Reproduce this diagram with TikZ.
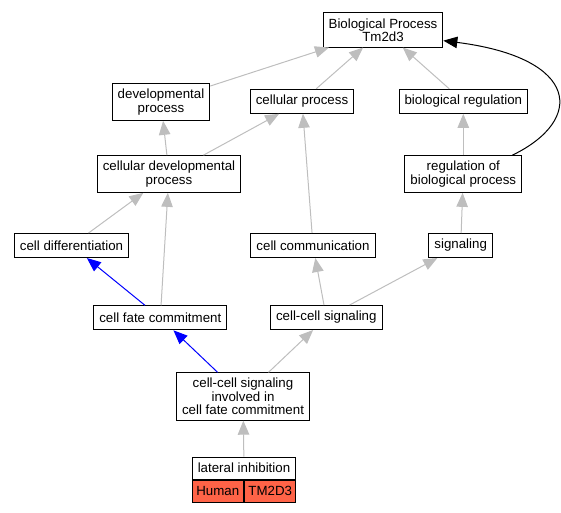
\documentclass[tikz,border=0pt]{standalone}
\usepackage{fontspec}
\setmainfont{Liberation Sans}
\usetikzlibrary{arrows.meta}
\definecolor{edgegray}{RGB}{190,190,190}
\definecolor{tomato}{RGB}{255,99,71}
\tikzset{tip/.style={-{Triangle[length=14pt,width=11.5pt]}}}
\begin{document}
\begin{tikzpicture}[x=1pt, y=-1pt]
\useasboundingbox (0,0) rectangle (561,512);
\begin{scope}[every node/.style = {rectangle, draw, line width=1pt, align=center, inner xsep=5.5pt, inner ysep=5.5pt, minimum height=24pt, font=\fontsize{13.3}{13.3}\selectfont}]
\node (bp) at (383, 30) {Biological Process\\Tm2d3};
\node (devproc) at (161, 102) {developmental\\process};
\node (cellproc) at (302, 101.3) {cellular process};
\node (bioreg) at (463.3, 101.3) {biological regulation};
\node (celldev) at (169, 174) {cellular developmental\\process};
\node (regbp) at (463.3, 174) {regulation of\\biological process};
\node (celldiff) at (71.5, 245.5) {cell differentiation};
\node (cellcomm) at (313, 245.5) {cell communication};
\node (signal) at (460.7, 245.5) {signaling};
\node (fate) at (160.3, 317.8) {cell fate commitment};
\node (ccsig) at (326.3, 317.5) {cell-cell signaling};
\node (ccfate) at (243, 396.5) {cell-cell signaling\\involved in\\cell fate commitment};
\node[minimum width=102pt, minimum height=22pt] (lateral) at (244, 468) {lateral inhibition};
\node[fill=tomato, inner xsep=3pt, minimum width=51pt, minimum height=22pt, anchor=north west] (human) at (lateral.south west) {Human};
\node[fill=tomato, inner xsep=3pt, minimum width=51pt, minimum height=22pt, anchor=north east] (gene) at (lateral.south east) {TM2D3};
\end{scope}
\begin{scope}[every edge/.style = {draw, line width=1pt, edgegray, tip}]
\path (devproc) edge (bp);
\path (cellproc) edge (bp);
\path (bioreg) edge (bp);
\path (celldev) edge (devproc);
\path (celldev) edge (cellproc);
\path (regbp) edge (bioreg);
\path (celldiff) edge (celldev);
\path (fate) edge (celldev);
\path (cellcomm) edge (cellproc);
\path (signal) edge (regbp);
\path (ccsig) edge (cellcomm);
\path (ccsig) edge (signal);
\path (ccfate) edge (ccsig);
\path (lateral) edge (ccfate);
\path (fate) edge[blue] (celldiff);
\path (ccfate) edge[blue] (fate);
\end{scope}
\draw[line width=1pt, tip] (regbp.21) .. controls (585, 120) and (580, 58) .. (bp.-10);
\end{tikzpicture}
\end{document}
